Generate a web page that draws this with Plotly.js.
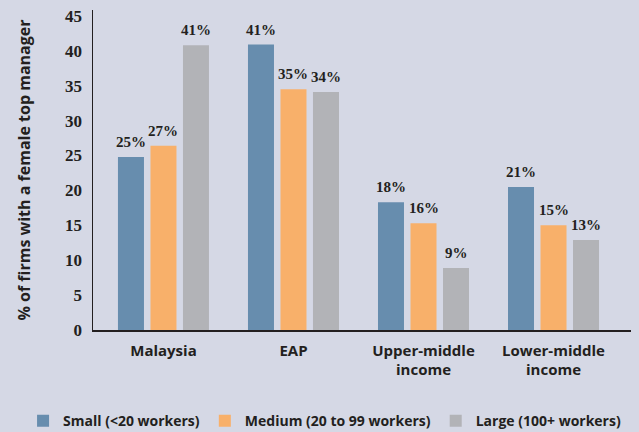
<!DOCTYPE html>
<html>
<head>
<meta charset="utf-8">
<script src="https://cdn.plot.ly/plotly-3.0.1.min.js"></script>
<style>html,body{margin:0;padding:0;background:#d5d8e5;}#chart{width:639px;height:432px;}</style>
</head>
<body>
<div id="chart"></div>
<script>
const categories = ['Malaysia', 'EAP', 'Upper-middle<br>income', 'Lower-middle<br>income'];
const seriesNames = ['Small (<20 workers)', 'Medium (20 to 99 workers)', 'Large (100+ workers)'];
const small = [24.8, 40.9, 18.3, 20.5];
const medium = [26.4, 34.5, 15.3, 15.0];
const large = [40.8, 34.1, 8.9, 12.9];
const smallLabels = ['25%', '41%', '18%', '21%'];
const mediumLabels = ['27%', '35%', '16%', '15%'];
const largeLabels = ['41%', '34%', '9%', '13%'];
const yTicks = [0, 5, 10, 15, 20, 25, 30, 35, 40, 45];

const colors = ['#678dae', '#f8b06a', '#b2b3b7'];
const serif = 'Liberation Serif, serif';
const sans = 'Open Sans, sans-serif';
const ink = '#231f20';

const allVals = [small, medium, large];
const allLabels = [smallLabels, mediumLabels, largeLabels];
const offsets = [-0.25, 0, 0.25];

const traces = allVals.map((vals, i) => ({
  type: 'bar', x: categories, y: vals, name: seriesNames[i],
  marker: {color: colors[i]}, hoverinfo: 'skip'
}));

const annotations = [];
allVals.forEach((vals, i) => {
  vals.forEach((v, j) => {
    annotations.push({
      x: j + offsets[i], y: v, xref: 'x', yref: 'y', text: allLabels[i][j],
      showarrow: false, yanchor: 'bottom', yshift: 5,
      font: {family: serif, size: 15, color: ink, weight: 'bold'}
    });
  });
});

const layout = {
  width: 639, height: 432,
  paper_bgcolor: '#d5d8e5', plot_bgcolor: '#d5d8e5',
  margin: {l: 93, r: 8, t: 10, b: 102, autoexpand: false},
  barmode: 'group', bargap: 0.25, bargroupgap: 0.2,
  showlegend: true,
  legend: {orientation: 'h', xref: 'paper', yref: 'paper', x: -0.13, xanchor: 'left', y: -0.285, yanchor: 'middle',
    font: {family: sans, size: 14, color: ink, weight: 'bold'}, bgcolor: 'rgba(0,0,0,0)', itemwidth: 30},
  xaxis: {type: 'category', range: [-0.542, 3.596], showline: true, linecolor: ink, linewidth: 1.5,
    ticks: '', showgrid: false, zeroline: false, ticklabelstandoff: 6, automargin: false,
    tickfont: {family: sans, size: 15, color: ink, weight: 'bold'}},
  yaxis: {range: [0, 45.85], tickvals: yTicks, showline: true, linecolor: ink, linewidth: 1.5,
    ticks: '', showgrid: false, zeroline: false, ticklabelstandoff: 6, automargin: false,
    tickfont: {family: serif, size: 17, color: ink, weight: 'bold'},
    title: {text: '% of firms with a female top manager', standoff: 30,
      font: {family: sans, size: 16, color: ink, weight: 'bold'}}},
  annotations: annotations
};

Plotly.newPlot('chart', traces, layout, {displayModeBar: false, staticPlot: true});
</script>
</body>
</html>
